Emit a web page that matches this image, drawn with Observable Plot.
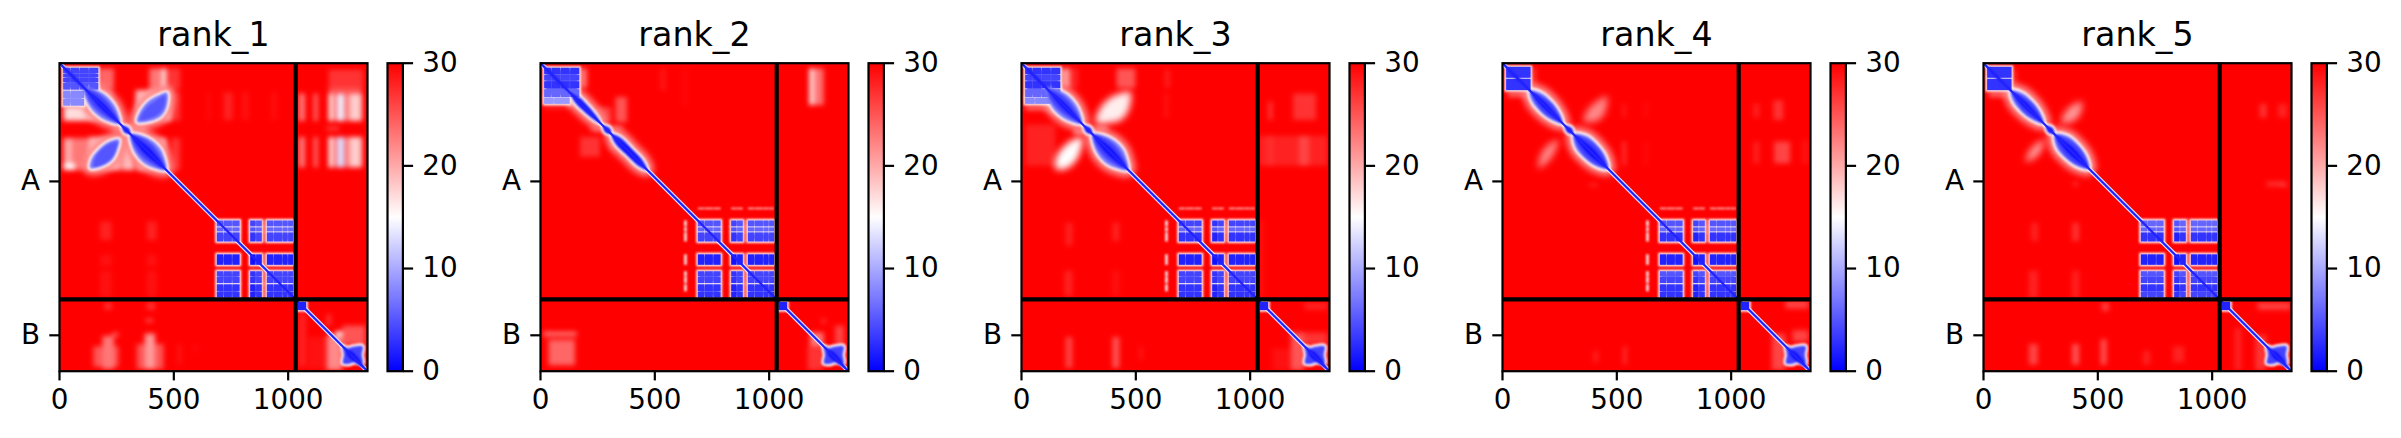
<!DOCTYPE html>
<html>
<head>
<meta charset="utf-8">
<script src="https://cdn.jsdelivr.net/npm/d3@7"></script>
<script src="https://cdn.jsdelivr.net/npm/@observablehq/plot@0.6"></script>
<style>
html,body{margin:0;padding:0;background:#fff;}
#page{position:relative;width:2401px;height:438px;overflow:hidden;background:#fff;}
#page svg{position:absolute;top:0;max-width:none;height:438px;}
</style>
</head>
<body>
<div id="page"></div>
<script>
// ---- chart constants ----
const residues = 1347;
const chainSplit = 1033;
const rankTitles = ["rank_1","rank_2","rank_3","rank_4","rank_5"];
const xTicks = [0,500,1000];
const chainTicks = [517,1190];
const chainLabels = ["A","B"];
const barTicks = [0,10,20,30];

// ---- spans of the chain-A C-terminal domain blocks ----
const cCols = [[690,718],[720,756],[758,790],[836,860],[862,887],[909,938],[940,975],[977,1000],[1002,1024]];
const cRows = [[690,716],[720,738],[742,782],[838,884],[912,935],[937,964],[969,1000],[1002,1027]];
const cColsCoarse = [[690,790],[836,887],[909,1024]];
const cRowsCoarse = [[690,716],[720,738],[742,782],[838,884],[912,964],[969,1027]];
const cRowV = [
  [5,6,4,2,4,4,3,3],
  [5,6,4,2,4,4,3,3],
  [4,6,3,2,4,4,3,3],
  [5,6,3,2,5,4,3,3],
  [6,6,3,2,5,4,3,4]
];
const cCombCols = [[630,642]];
const cCombRows = [[634,641]];

// ---- N-terminal block spans per rank ----
const nCols1 = [[18,48],[50,88],[90,130],[132,172]];
const nRows1 = [[22,45],[48,64],[67,85],[88,118]];
const nCols1b = [[18,50],[52,110]];
const nRows1b = [[122,155],[158,188]];
const nCols2 = [[18,48],[50,88],[90,130],[132,172]];
const nRows2 = [[22,50],[53,78],[81,112],[116,150]];
const nCols2b = [[18,60],[62,130]];
const nRows2b = [[152,180]];
const nCols4 = [[18,125]];
const nRows4 = [[18,66],[70,120]];
const nUnder1 = [[18,172,22,118,6],[18,110,122,188,9]];
const nUnder2 = [[18,172,22,150,6],[18,130,152,180,9]];
const nUnder4 = [[18,125,18,66,5],[18,125,70,120,5]];

// ---- blue lens-shaped regions next to the diagonal ----
const lensA_wide = [[105,105],[150,113],[198,138],[236,178],[258,225],[264,264],[225,258],[178,236],[138,198],[113,150]];
const lensB_wide = [[310,310],[358,316],[404,338],[442,376],[460,420],[466,466],[420,460],[376,442],[338,404],[316,358]];
const midA_wide = [[115,115],[168,132],[218,178],[260,260],[178,218],[132,168]];
const midB_wide = [[315,315],[372,332],[424,378],[462,462],[378,424],[332,372]];
const lensA_thin = [[135,135],[170,148],[210,188],[245,230],[263,263],[230,245],[188,210],[148,170]];
const lensB_thin = [[312,312],[350,325],[405,380],[448,425],[465,465],[425,448],[380,405],[325,350]];
const lensA_mid = [[120,120],[168,130],[212,166],[245,210],[263,263],[210,245],[166,212],[130,168]];
const lensB_mid = [[312,312],[370,320],[416,360],[450,408],[461,461],[408,450],[360,416],[320,370]];
const midA_mid = [[125,125],[180,148],[228,190],[260,260],[190,228],[148,180]];
const midB_mid = [[315,315],[382,338],[432,385],[458,458],[385,432],[338,382]];
const coreA = [[125,125],[195,178],[258,258],[178,195]];
const coreB = [[315,315],[395,372],[460,460],[372,395]];
const coreN = [[5,5],[60,50],[125,125],[50,60]];
const hinge = [[274,274],[302,283],[309,309],[283,302]];
const offUpper = [[340,256],[355,208],[390,165],[435,140],[470,130],[468,190],[445,230],[400,252]];
const offLower = [[260,335],[252,380],[232,420],[190,448],[135,458],[140,420],[170,380],[215,345]];
const offUpperMid = [[352,248],[380,195],[420,165],[460,142],[456,192],[425,228]];
const offLowerMid = [[252,345],[238,400],[205,435],[150,452],[160,405],[205,360]];

// ---- chain-B blocks ----
const bSmall = [[1043,1081,1046,1082]];
const bLarge = [[1240,1240],[1262,1246],[1285,1240],[1325,1238],[1322,1275],[1325,1312],[1290,1308],[1265,1315],[1240,1312],[1244,1275]];
const bCore = [[1255,1255],[1285,1265],[1335,1335],[1265,1285]];

// ---- pale patches per rank: x1,x2,y1,y2,value ----
const soft1 = [
 [172,240,25,118,24],[172,215,125,190,23],[100,230,130,200,20],
 [20,120,190,254,17],[120,240,205,255,18],
 [395,440,25,118,23],[440,452,25,118,21],[452,470,25,118,16],[470,530,25,118,27],
 [335,490,120,256,19],[490,530,130,254,27],
 [20,60,330,470,20],[60,140,330,470,23],[20,70,440,468,15],[130,270,325,470,19],[275,330,270,470,19],[330,370,275,310,21],[240,280,280,300,22],
 [340,470,330,470,19],[490,530,330,470,27],
 [650,660,130,250,29],[720,760,130,250,28],[800,830,130,250,29],[930,950,130,250,29],
 [1047,1076,135,255,23],[1113,1132,135,255,24],[1179,1201,135,255,16],[1205,1215,135,255,24],[1215,1250,135,255,14],[1255,1270,135,255,22],[1270,1325,135,255,18],
 [1047,1076,325,458,23],[1113,1132,325,458,24],[1179,1201,325,458,16],[1205,1215,325,458,24],[1215,1250,325,458,13],[1255,1270,325,458,22],[1270,1325,325,458,18],
 [1179,1330,30,110,27],[1179,1325,110,135,25],[1170,1225,280,296,26],
 [180,230,695,775,28],[384,427,695,775,28],[180,230,840,890,29],[384,427,840,890,29],[180,230,910,1025,29],[384,427,910,1025,29],
 [200,230,1050,1080,27],[384,420,1050,1080,27],[150,260,1240,1330,25],[190,240,1195,1340,23],[230,260,1180,1200,25],
 [340,457,1230,1340,25],[375,420,1185,1340,21],[380,410,1120,1135,25],[522,532,1230,1320,28],[590,600,1230,1270,29],
 [1050,1080,1095,1330,28],[1170,1240,1190,1345,22],[1240,1340,1150,1235,25],[1210,1240,1175,1195,15],[1090,1170,1200,1340,29],[1170,1190,1100,1150,27]
];
const soft2 = [
 [172,205,25,110,23],[130,190,150,190,21],[20,130,190,195,21],
 [248,310,195,258,26],[330,380,150,260,25],[220,365,280,298,24],[175,262,324,411,27],[310,330,320,380,24],
 [440,465,465,480,25],[530,545,25,120,28],[630,640,30,190,29],
 [1178,1195,25,185,15],[1198,1215,25,185,21],[1218,1240,25,185,23],
 [15,160,1180,1190,18],[15,160,1200,1208,27],[37,153,1213,1323,24],
 [1180,1240,1180,1240,23],[1170,1240,1240,1345,27],[1290,1330,1150,1235,26],[1230,1250,1120,1140,27]
];
const soft3 = [
 [172,215,25,110,21],[120,200,160,215,18],[20,110,190,205,21],
 [418,500,25,110,25],[215,250,25,110,28],[630,650,30,110,28],[630,640,135,240,28],
 [20,150,270,450,28],[230,300,290,310,20],[330,380,280,300,22],
 [1040,1340,320,450,28],[1190,1290,135,250,27],[1215,1260,320,450,26],[1080,1100,170,250,27],[1080,1100,320,450,27],
 [195,225,700,800,28],[400,430,700,780,28],[190,225,910,1020,28],[400,430,910,1020,29],[1040,1060,690,1025,29],
 [195,225,1200,1335,26],[400,430,1200,1335,25],[520,530,1240,1300,28],
 [1180,1240,1180,1345,25],[1240,1340,1180,1235,27],[1100,1180,1250,1345,29],[1240,1340,1050,1080,28]
];
const soft4 = [
 [125,150,25,110,27],[25,125,122,150,24],
 [528,540,180,240,28],[528,540,345,450,26],[625,635,170,240,29],[625,635,345,450,29],
 [1187,1230,165,250,27],[1100,1125,180,240,28],[1190,1260,345,440,26],[1100,1125,345,440,28],[1310,1340,340,440,29],
 [380,420,530,540,27],[530,545,1240,1320,27],[400,420,1260,1310,28],
 [1180,1240,1185,1345,26],[1240,1340,1040,1075,26],[1270,1340,1170,1220,26]
];
const soft5 = [
 [125,145,30,110,27],[25,125,122,150,24],
 [1210,1240,180,240,27],[1290,1330,180,240,28],[1240,1320,520,540,27],[1300,1330,530,540,25],
 [395,415,520,540,27],[210,240,700,780,28],[390,420,700,780,27],[200,240,910,1030,28],[390,420,910,1030,28],
 [200,240,1230,1320,26],[390,420,1230,1320,25],[515,540,1210,1320,25],[700,730,1260,1320,28],[830,880,1240,1310,28],
 [1100,1130,1160,1345,28],[1190,1240,1190,1345,27],[1200,1345,1050,1080,26],[520,550,1050,1085,26]
];
const softPolys3 = [[[325,262],[345,195],[390,150],[445,128],[475,125],[472,195],[440,245],[385,262]],
                    [[266,325],[258,385],[235,430],[195,462],[150,462],[152,410],[190,360],[225,335]]];
const softPolyV3 = [16,15];
const softPolys4 = [[[355,255],[375,200],[415,165],[455,145],[450,210],[420,250]],
                    [[245,335],[230,385],[205,425],[158,458],[165,405],[195,360]]];
const softPolyV4 = [22,22];
const softPolys5 = [[[340,260],[360,210],[395,180],[430,170],[420,228],[390,255]],
                    [[265,335],[252,385],[225,415],[185,430],[200,385],[232,350]]];
const softPolyV5 = [21,21];
const softPolys2 = [];
const softPolyV2 = [];
const softPolys1 = [];
const softPolyV1 = [];

// ---- helpers that only tabulate the arrays above ----
const grid = (cols, rows, vals, adj=[]) => cols.flatMap((c,j) => rows.map((r,i) => [c[0],c[1],r[0],r[1],(Array.isArray(vals)?vals[i]:vals)+(adj[j]||0)]));
const tabulate = (shapes) => shapes.flatMap(([pts,v],k) => pts.map(p => ({x:p[0],y:p[1],v,k,h:16})));
const cAdj = [0,0,0,-1,0,0,0,0,0];

const panelSpec = [
 {soft:soft1, softP:softPolys1, softV:softPolyV1, comb:false, under:nUnder1,
  rects:[...grid(nCols1,nRows1,[4,4,4,5]),...grid(nCols1b,nRows1b,8)],
  wide:[lensA_wide,lensB_wide,offUpper,offLower],
  shapes:[[lensA_wide,7],[lensB_wide,7],[offUpper,7],[offLower,7],[offUpperMid,5],[offLowerMid,5],[midA_wide,4],[midB_wide,4],[coreA,1],[coreB,1],[coreN,2],[hinge,1]]},
 {soft:soft2, softP:softPolys2, softV:softPolyV2, comb:true, under:nUnder2,
  rects:[...grid(nCols2,nRows2,[3,4,3,6]),...grid(nCols2b,nRows2b,9)],
  wide:[lensA_thin,lensB_thin],
  shapes:[[lensA_thin,4],[lensB_thin,3],[coreA,1],[coreB,1],[coreN,2],[hinge,1]]},
 {soft:soft3, softP:softPolys3, softV:softPolyV3, comb:true, under:nUnder2,
  rects:[...grid(nCols2,nRows2,[3,4,3,6]),...grid(nCols2b,nRows2b,8)],
  wide:[lensA_wide,lensB_wide],
  shapes:[[lensA_wide,7],[lensB_wide,7],[midA_wide,4],[midB_wide,4],[coreA,1],[coreB,1],[coreN,2],[hinge,1]]},
 {soft:soft4, softP:softPolys4, softV:softPolyV4, comb:true, under:nUnder4,
  rects:grid(nCols4,nRows4,3),
  wide:[lensA_mid,lensB_mid],
  shapes:[[lensA_mid,7],[lensB_mid,7],[midA_mid,4],[midB_mid,4],[coreA,1],[coreB,1],[coreN,2],[hinge,1]]},
 {soft:soft5, softP:softPolys5, softV:softPolyV5, comb:false, under:nUnder4,
  rects:grid(nCols4,nRows4,3),
  wide:[lensA_mid,lensB_mid],
  shapes:[[lensA_mid,7],[lensB_mid,7],[midA_mid,4],[midB_mid,4],[coreA,1],[coreB,1],[coreN,2],[hinge,1]]}
];

const colorOpts = {type:"linear", domain:[0,15,30], range:["#0000ff","#ffffff","#ff0000"], clamp:true};
const baseStyle = {background:"transparent", fontFamily:"'DejaVu Sans'", color:"#000", overflow:"visible"};
const F = {x1:d=>d[0], x2:d=>d[1], y1:d=>d[2], y2:d=>d[3], fill:d=>d[4]};
const page = document.getElementById("page");

rankTitles.forEach((title,i) => {
  const p = panelSpec[i];
  const cells = grid(cCols,cRows,cRowV[i],cAdj);
  const cUnder = grid(cColsCoarse,cRowsCoarse,7);
  const comb = p.comb ? [
    ...cRows.slice(0,7).map(r => [cCombCols[0][0],cCombCols[0][1],r[0],r[1],17]),
    ...cCols.map(c => [c[0],c[1],cCombRows[0][0],cCombRows[0][1],19])
  ] : [];
  const under = [...p.under, ...cUnder, ...bSmall.map(b => [...b,3])];
  const blocks = [...p.rects, ...cells, ...bSmall.map(b => [...b,2])];
  const softRows = tabulate(p.softP.map((q,k) => [q,p.softV[k]]));
  const wideRows = tabulate(p.wide.map(q => [q,22]));
  const shapeRows = tabulate([...p.shapes,[bLarge,4],[bCore,1]]);
  const haloRows = tabulate([...p.wide.map(q => [q,16]),[hinge,16],[bLarge,16]]);
  const diag = [[0,0],[residues,residues]];
  const svg = Plot.plot({
    width:377, height:438,
    marginLeft:59, marginTop:62.7, marginRight:10, marginBottom:67.3,
    style:baseStyle,
    x:{domain:[0,residues], axis:null},
    y:{domain:[residues,0], axis:null},
    color:colorOpts,
    marks:[
      Plot.rect([[0,residues,0,residues,30]],{...F}),
      Plot.rect(p.soft,{...F, clip:true, imageFilter:"blur(2.6px)"}),
      Plot.line(softRows,{x:"x",y:"y",z:"k",fill:"v",stroke:"none",curve:"catmull-rom-closed",clip:true,imageFilter:"blur(3.5px)"}),
      Plot.rect(comb,{...F, clip:true, imageFilter:"blur(1px)"}),
      Plot.line(wideRows,{x:"x",y:"y",z:"k",fill:"v",stroke:"v",strokeWidth:14,curve:"catmull-rom-closed",clip:true,imageFilter:"blur(3px)"}),
      Plot.line(diag,{x:d=>d[0],y:d=>d[1],stroke:d=>13,strokeWidth:4.6,clip:true}),
      Plot.rect(under,{...F, stroke:d=>16, strokeWidth:3.2, clip:true, imageFilter:"blur(0.8px)"}),
      Plot.line(haloRows,{x:"x",y:"y",z:"k",fill:"v",stroke:"v",strokeWidth:5,curve:"catmull-rom-closed",clip:true,imageFilter:"blur(1.2px)"}),
      Plot.rect(blocks,{...F, clip:true, imageFilter:"blur(0.6px)"}),
      Plot.line(shapeRows,{x:"x",y:"y",z:"k",fill:"v",stroke:"none",curve:"catmull-rom-closed",clip:true,imageFilter:"blur(1.2px)"}),
      Plot.line(diag,{x:d=>d[0],y:d=>d[1],stroke:d=>2,strokeWidth:2.2,clip:true}),
      Plot.ruleX([chainSplit],{stroke:"#000",strokeWidth:4.17}),
      Plot.ruleY([chainSplit],{stroke:"#000",strokeWidth:4.17}),
      Plot.frame({stroke:"#000",strokeWidth:2.2}),
      Plot.axisX({ticks:xTicks,tickFormat:d=>String(d),anchor:"bottom",label:null,tickSize:9.7,tickPadding:8.5,fontSize:27.8,strokeWidth:2.2}),
      Plot.axisY({ticks:chainTicks,tickFormat:d=>chainLabels[chainTicks.indexOf(d)],anchor:"left",label:null,tickSize:9.7,tickPadding:9.7,fontSize:27.8,strokeWidth:2.2}),
      Plot.text([title],{text:d=>d,frameAnchor:"top",lineAnchor:"bottom",dy:-17,fontSize:33.3})
    ]
  });
  svg.style.left = (481*i)+"px";
  svg.style.width = "377px";
  page.appendChild(svg);

  const bar = Plot.plot({
    width:100, height:438,
    marginLeft:2, marginRight:82.6, marginTop:62.7, marginBottom:67.3,
    style:baseStyle,
    x:{domain:[0,1], axis:null},
    y:{domain:[0,30], axis:null},
    color:colorOpts,
    marks:[
      Plot.raster({x1:0,x2:1,y1:0,y2:30,width:1,height:256,fill:(x,y)=>y}),
      Plot.frame({stroke:"#000",strokeWidth:2.2}),
      Plot.axisY({ticks:barTicks,tickFormat:d=>String(d),anchor:"right",label:null,tickSize:9.7,tickPadding:9.7,fontSize:27.8,strokeWidth:2.2})
    ]
  });
  bar.style.left = (385+481*i)+"px";
  bar.style.width = "100px";
  page.appendChild(bar);
});
</script>
</body>
</html>
